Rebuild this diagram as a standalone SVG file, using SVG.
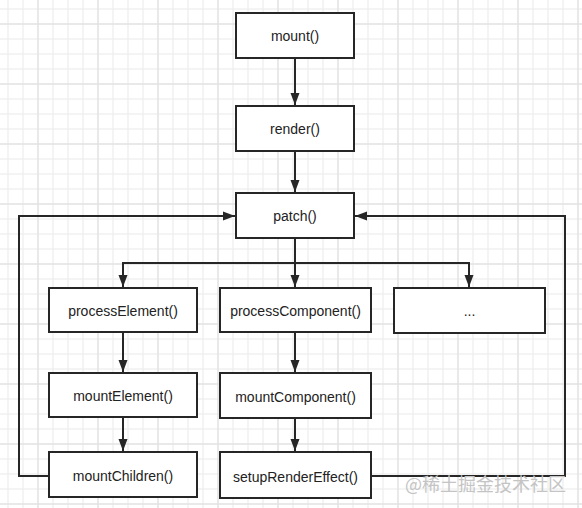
<svg xmlns="http://www.w3.org/2000/svg" width="582" height="508" viewBox="0 0 582 508">
  <style>
    .node rect { fill: #ffffff; stroke: #262626; stroke-width: 2; }
    .node text { font-family: "Liberation Sans", Arial, sans-serif; font-size: 14px; fill: #222222; text-anchor: middle; dominant-baseline: central; }
    .conn path { fill: none; stroke: #262626; stroke-width: 2; }
    .wm { font-family: "Noto Sans CJK SC", "Noto Sans", sans-serif; font-size: 18px; fill: #c4c4c4; }
  </style>
  <defs>
    <pattern id="minor" patternUnits="userSpaceOnUse" x="7.5" y="8.5" width="15" height="15">
      <path d="M15 0.5 L0.5 0.5 L0.5 15" fill="none" stroke="#e9e9e9" stroke-width="1"/>
    </pattern>
    <pattern id="major" patternUnits="userSpaceOnUse" x="37.5" y="23.5" width="60" height="60">
      <path d="M60 0.5 L0.5 0.5 L0.5 60" fill="none" stroke="#dedede" stroke-width="1"/>
    </pattern>
    <marker id="arrow" markerUnits="userSpaceOnUse" markerWidth="12" markerHeight="10" refX="12" refY="5" orient="auto">
      <path d="M0 0.5 L12 5 L0 9.5 Z" fill="#262626"/>
    </marker>
  </defs>

  <rect x="0" y="0" width="582" height="508" fill="#ffffff"/>
  <rect x="0" y="0" width="582" height="508" fill="url(#minor)"/>
  <rect x="0" y="0" width="582" height="508" fill="url(#major)"/>

  <g id="connectors" class="conn">
    <path d="M295 58 L295 105" marker-end="url(#arrow)"/>
    <path d="M295 151 L295 192" marker-end="url(#arrow)"/>
    <path d="M295 238 L295 263"/>
    <path d="M123 263 L469 263"/>
    <path d="M123 262 L123 287" marker-end="url(#arrow)"/>
    <path d="M295 262 L295 287" marker-end="url(#arrow)"/>
    <path d="M469 262 L469 287" marker-end="url(#arrow)"/>
    <path d="M123 332 L123 372" marker-end="url(#arrow)"/>
    <path d="M123 417 L123 451" marker-end="url(#arrow)"/>
    <path d="M295 332 L295 372" marker-end="url(#arrow)"/>
    <path d="M295 418 L295 451" marker-end="url(#arrow)"/>
    <path d="M49 476 L19 476 L19 216 L235 216" marker-end="url(#arrow)"/>
    <path d="M371 476 L565 476 L565 216 L355 216" marker-end="url(#arrow)"/>
  </g>

  <g id="mount" class="node"><rect x="236" y="13" width="118" height="45"/><text x="295" y="36">mount()</text></g>
  <g id="render" class="node"><rect x="236" y="106" width="118" height="45"/><text x="295" y="129">render()</text></g>
  <g id="patch" class="node"><rect x="236" y="193" width="118" height="45"/><text x="295" y="216">patch()</text></g>
  <g id="processElement" class="node"><rect x="49" y="288" width="148" height="44"/><text x="123" y="311">processElement()</text></g>
  <g id="processComponent" class="node"><rect x="220" y="288" width="151" height="44"/><text x="295.5" y="311">processComponent()</text></g>
  <g id="others" class="node"><rect x="394" y="288" width="151" height="45"/><text x="469.5" y="311">...</text></g>
  <g id="mountElement" class="node"><rect x="49" y="373" width="148" height="44"/><text x="123" y="396">mountElement()</text></g>
  <g id="mountComponent" class="node"><rect x="220" y="373" width="151" height="45"/><text x="295.5" y="397">mountComponent()</text></g>
  <g id="mountChildren" class="node"><rect x="49" y="452" width="148" height="45"/><text x="123" y="476">mountChildren()</text></g>
  <g id="setupRenderEffect" class="node"><rect x="220" y="452" width="151" height="46"/><text x="295.5" y="477">setupRenderEffect()</text></g>

  <text class="wm" x="405" y="491">@稀土掘金技术社区</text>
</svg>
